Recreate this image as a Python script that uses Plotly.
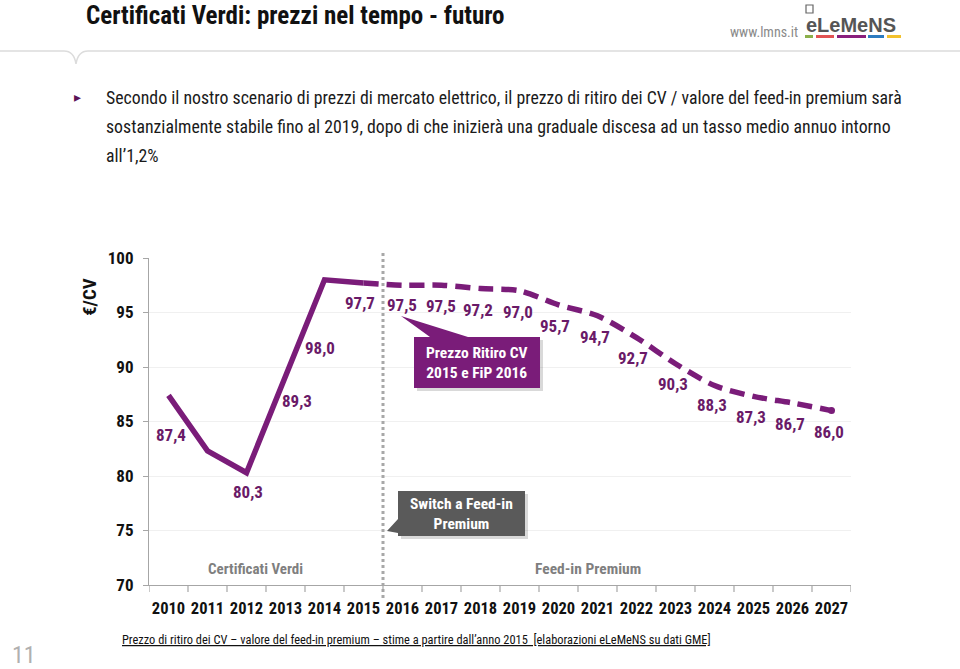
import plotly.graph_objects as go

# ---------------- data ----------------
years = ["2010", "2011", "2012", "2013", "2014", "2015", "2016", "2017", "2018",
         "2019", "2020", "2021", "2022", "2023", "2024", "2025", "2026", "2027"]
prices = [87.4, 82.3, 80.3, 89.3, 98.0, 97.7, 97.5, 97.5, 97.2, 97.0,
          95.7, 94.7, 92.7, 90.3, 88.3, 87.3, 86.7, 86.0]
price_labels = ["87,4", "", "80,3", "89,3", "98,0", "97,7", "97,5", "97,5", "97,2",
                "97,0", "95,7", "94,7", "92,7", "90,3", "88,3", "87,3", "86,7", "86,0"]
y_ticks = [70, 75, 80, 85, 90, 95, 100]

# label offsets (pixels, style only)
label_dx = [2, 0, 1, 11, -5, -4, -1, -1, -3, -2, -4, -3, -4, -3, -3, -3, -3, -3]
label_dy = [40, 0, 19, 26, 68, 20, 20, 21, 21, 21, 21, 21, 20, 20, 19, 21, 21, 21]

FONT = "Liberation Sans Narrow, Arial Narrow, Roboto Condensed, sans-serif"
PURPLE = "#7a1c79"
W, H = 960, 669
PL, PR, PT, PB = 149, 851, 258, 585


def px(x):
    return (x - PL) / (PR - PL)


def py(y):
    return (PB - y) / (PB - PT)


def txt(x, y, text, size, color="#111", weight="normal", xanchor="center",
        family=FONT, angle=0):
    return dict(x=px(x), y=py(y), xref="paper", yref="paper", showarrow=False,
                xanchor=xanchor, yanchor="middle", text=text, textangle=angle,
                font=dict(family=family, size=size, color=color, weight=weight))


fig = go.Figure()

# solid historical part
fig.add_trace(go.Scatter(
    x=list(range(6)), y=prices[:6], mode="lines",
    line=dict(color=PURPLE, width=5.5), hoverinfo="skip", showlegend=False))
# dashed forecast part
fig.add_trace(go.Scatter(
    x=list(range(5, len(years))), y=prices[5:], mode="lines",
    line=dict(color=PURPLE, width=5.5, dash="15px,8px", shape="spline", smoothing=0.8),
    hoverinfo="skip", showlegend=False))
# end dot
fig.add_trace(go.Scatter(
    x=[len(years) - 1], y=prices[-1:], mode="markers",
    marker=dict(color=PURPLE, size=7), hoverinfo="skip", showlegend=False))

annotations = []
for i, (v, lab) in enumerate(zip(prices, price_labels)):
    if not lab:
        continue
    annotations.append(dict(
        x=i, y=v, xref="x", yref="y", text=lab, showarrow=False,
        xanchor="center", yanchor="middle",
        xshift=label_dx[i], yshift=-label_dy[i],
        font=dict(family=FONT, size=17, color="#6a1a68", weight="bold")))

shapes = []
# vertical dotted separator
shapes.append(dict(type="line", xref="x", yref="paper", x0=5.5, x1=5.5,
                   y0=py(598), y1=py(252),
                   line=dict(color="#a8a8a8", width=3, dash="dot")))

# callout 1 (purple)
b1 = (414, 337, 540, 388)
shapes.append(dict(type="rect", xref="paper", yref="paper",
                   x0=px(b1[0] + 3), x1=px(b1[2] + 3), y0=py(b1[3] + 3), y1=py(b1[1] + 3),
                   fillcolor="rgba(0,0,0,0.15)", line=dict(width=0), layer="above"))
path1 = "M {},{} L {},{} L {},{} L {},{} L {},{} L {},{} L {},{} Z".format(
    px(b1[0]), py(b1[1]), px(430), py(b1[1]), px(401), py(316), px(468), py(b1[1]),
    px(b1[2]), py(b1[1]), px(b1[2]), py(b1[3]), px(b1[0]), py(b1[3]))
shapes.append(dict(type="path", xref="paper", yref="paper", path=path1,
                   fillcolor=PURPLE, line=dict(width=0), layer="above"))
annotations.append(txt((b1[0] + b1[2]) / 2, (b1[1] + b1[3]) / 2,
                       "Prezzo Ritiro CV<br>2015 e FiP 2016", 15.5, "white", "bold"))

# callout 2 (grey)
b2 = (398, 491, 525, 536)
shapes.append(dict(type="rect", xref="paper", yref="paper",
                   x0=px(b2[0] + 3), x1=px(b2[2] + 3), y0=py(b2[3] + 3), y1=py(b2[1] + 3),
                   fillcolor="rgba(0,0,0,0.15)", line=dict(width=0), layer="above"))
path2 = "M {},{} L {},{} L {},{} L {},{} L {},{} L {},{} L {},{} Z".format(
    px(b2[0]), py(b2[1]), px(b2[2]), py(b2[1]), px(b2[2]), py(b2[3]),
    px(b2[0]), py(b2[3]), px(b2[0]), py(533), px(387), py(531), px(b2[0]), py(519))
shapes.append(dict(type="path", xref="paper", yref="paper", path=path2,
                   fillcolor="#5a5a5a", line=dict(width=0), layer="above"))
annotations.append(txt((b2[0] + b2[2]) / 2, (b2[1] + b2[3]) / 2,
                       "Switch a Feed-in<br>Premium", 15.5, "white", "bold"))

# period labels
annotations.append(txt(255, 569, "Certificati Verdi", 15, "#7f7f7f", "bold"))
annotations.append(txt(588, 569, "Feed-in Premium", 15.5, "#7f7f7f", "bold"))

# y axis title
annotations.append(txt(89, 297, "€/CV", 19, "#111", "bold", angle=-90))

# page title
annotations.append(txt(84, 15, "Certificati Verdi: prezzi nel tempo - futuro", 25,
                       "#111", "bold", xanchor="left"))

# header line with notch
hp = "M {},{} L {},{} Q {},{} {},{} Q {},{} {},{} L {},{}".format(
    px(0), py(51), px(64), py(51), px(74), py(51), px(76), py(64),
    px(78), py(51), px(88), py(51), px(960), py(51))
shapes.append(dict(type="path", xref="paper", yref="paper", path=hp,
                   line=dict(color="#dcdcdc", width=1.5)))

# logo
annotations.append(txt(728, 32, "www.lmns.it", 14, "#8a8a8a", xanchor="left"))
annotations.append(txt(804, 25, "eLeMeNS", 20, "#555555", "bold", xanchor="left",
                       family="Liberation Sans, Arial, sans-serif"))
logo_bars = [(805, 813, "#8cb04b"), (816, 834, "#e25454"), (837, 866, "#8a1f7c"),
             (868, 884, "#2c7bc0"), (887, 901, "#f2c12e")]
for x0, x1, c in logo_bars:
    shapes.append(dict(type="rect", xref="paper", yref="paper",
                       x0=px(x0), x1=px(x1), y0=py(38), y1=py(35),
                       fillcolor=c, line=dict(width=0)))
shapes.append(dict(type="rect", xref="paper", yref="paper",
                   x0=px(806), x1=px(813), y0=py(13), y1=py(5),
                   fillcolor="rgba(0,0,0,0)", line=dict(color="#666", width=1.2)))

# bullet text
bullet_lines = [
    "Secondo il nostro scenario di prezzi di mercato elettrico, il prezzo di ritiro dei CV / valore del feed-in premium sarà",
    "sostanzialmente stabile fino al 2019, dopo di che inizierà una graduale discesa ad un tasso medio annuo intorno",
    "all\u20191,2%",
]
for line, yy in zip(bullet_lines, [97, 126, 155]):
    annotations.append(txt(104, yy, line, 17.8, "#1a1a1a", xanchor="left"))
annotations.append(txt(77, 97, "▸", 14, "#5b1356", family="DejaVu Sans"))

# footnote and page number
annotations.append(txt(120, 639,
                       "<u>Prezzo di ritiro dei CV \u2013 valore del feed-in premium \u2013 stime a partire dall\u2019anno 2015  [elaborazioni eLeMeNS su dati GME]</u>",
                       12.4, "#111", xanchor="left"))
annotations.append(txt(24, 655, "11", 24, "#b0b0b0"))

fig.update_layout(
    width=W, height=H,
    margin=dict(l=PL, r=W - PR, t=PT, b=H - PB),
    plot_bgcolor="white", paper_bgcolor="white",
    annotations=annotations, shapes=shapes, showlegend=False,
    xaxis=dict(tickmode="array", tickvals=list(range(len(years))), ticktext=years,
               range=[-0.5, len(years) - 0.5], tickangle=0,
               ticks="", showline=True, linecolor="#a6a6a6", linewidth=1.2,
               showgrid=False, zeroline=False,
               tickfont=dict(family=FONT, size=16.5, color="#111", weight="bold"),
               ticklabelstandoff=8),
    yaxis=dict(range=[70, 100], tickvals=y_ticks, ticks="outside", ticklen=5,
               tickcolor="#a6a6a6", showline=True, linecolor="#a6a6a6", linewidth=1.2,
               showgrid=True, gridcolor="#f0f0f0", zeroline=False,
               tickfont=dict(family=FONT, size=17, color="#111", weight="bold"),
               ticklabelstandoff=6),
)

# category-boundary tick marks on the x axis
for i in range(len(years) + 1):
    shapes.append(dict(type="line", xref="x", yref="paper", x0=i - 0.5, x1=i - 0.5,
                       y0=0, y1=py(PB + 7), line=dict(color="#a6a6a6", width=1.2)))
fig.update_layout(shapes=shapes)

fig.write_html("out.html", config={"displayModeBar": False},
               post_script="document.body.style.margin='0';")
